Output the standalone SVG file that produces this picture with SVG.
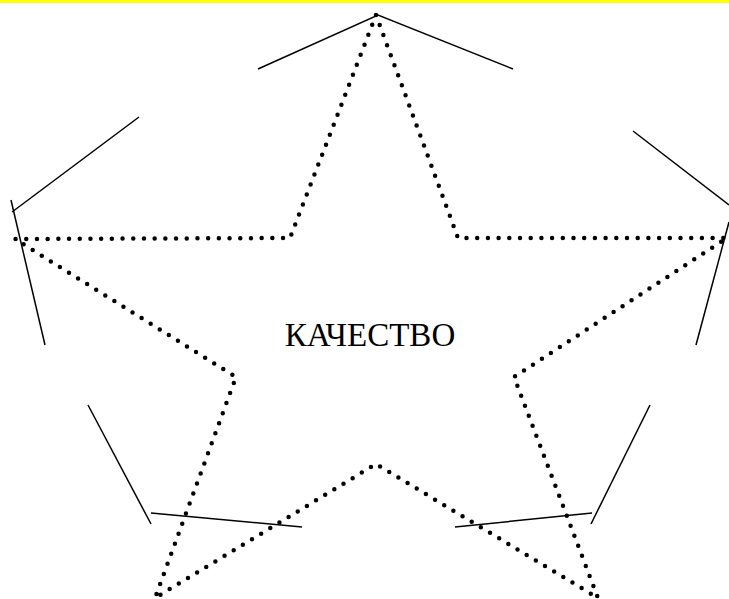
<svg xmlns="http://www.w3.org/2000/svg" width="729" height="599" viewBox="0 0 729 599">
<style>
.seg{stroke:#000;stroke-width:1.5;fill:none}
.dot{stroke:#000;stroke-width:4.5;fill:none;stroke-linecap:round;stroke-dasharray:0 10.7}
.lbl{font-family:"Liberation Serif",serif;font-size:33px;fill:#000}
</style>
<rect x="0" y="0" width="729" height="599" fill="#fff"/>
<rect x="0" y="0" width="729" height="3" fill="#ffff00"/>
<g id="connectors">
<polyline class="seg" points="258,69 378,15 513,69"/>
<line class="seg" x1="139" y1="117" x2="12" y2="212"/>
<line class="seg" x1="11" y1="200" x2="45" y2="345"/>
<line class="seg" x1="88" y1="405" x2="151" y2="524"/>
<line class="seg" x1="151" y1="513" x2="302" y2="527"/>
<line class="seg" x1="455" y1="527" x2="592" y2="513"/>
<line class="seg" x1="650" y1="405" x2="591" y2="524"/>
<line class="seg" x1="729" y1="222" x2="696" y2="345"/>
<line class="seg" x1="633" y1="131" x2="729" y2="205"/>
</g>
<g id="star">
<path class="dot" d="M376,15 L458,238 L727,238 L514,377 L598,598 L376,464 L155,598 L236,377 L15,239 L290,238 Z"/>
</g>
<g id="label">
<text class="lbl" x="370" y="346" text-anchor="middle">КАЧЕСТВО</text>
</g>
</svg>
